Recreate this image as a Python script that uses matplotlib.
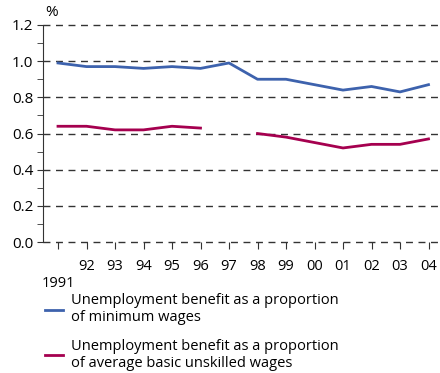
import numpy as np
import matplotlib.pyplot as plt

# data
years = ["1991", "92", "93", "94", "95", "96", "97", "98", "99", "00", "01", "02", "03", "04"]
min_wage_ratio = [0.99, 0.97, 0.97, 0.96, 0.97, 0.96, 0.99, 0.90, 0.90, 0.87, 0.84, 0.86, 0.83, 0.87]
unskilled_ratio = [0.64, 0.64, 0.62, 0.62, 0.64, 0.63, np.nan, 0.60, 0.58, 0.55, 0.52, 0.54, 0.54, 0.57]
labels = ["Unemployment benefit as a proportion\nof minimum wages",
          "Unemployment benefit as a proportion\nof average basic unskilled wages"]

BLUE = "#3d62ad"
RED = "#a5004f"

plt.rcParams["font.family"] = ["Open Sans", "DejaVu Sans"]

fig = plt.figure(figsize=(4.4, 3.73), dpi=100)
ax = fig.add_axes([43 / 440, 131 / 373, 397 / 440, 217 / 373])

x = np.arange(len(years))
l1, = ax.plot(x, min_wage_ratio, color=BLUE, lw=2)
l2, = ax.plot(x, unskilled_ratio, color=RED, lw=2)

ax.set_ylim(0, 1.2)
ax.set_xlim(-15 / 28.5, 382 / 28.5)
ax.set_yticks(np.arange(0, 1.21, 0.2))
ax.set_yticklabels([f"{v:.1f}" for v in np.arange(0, 1.21, 0.2)], fontsize=11)
ax.set_yticks(np.arange(0.1, 1.2, 0.2), minor=True)
ax.set_xticks(x)
ax.set_xticklabels(["\n" + years[0]] + years[1:], fontsize=10.5)

for v in np.arange(0, 1.21, 0.2):
    ax.axhline(v, color="#333333", lw=1, ls=(0, (5, 4)), zorder=0, clip_on=False)

for s in ["top", "right", "bottom"]:
    ax.spines[s].set_visible(False)
ax.spines["left"].set_color("#333333")
ax.tick_params(axis="y", which="both", direction="out", length=4, color="#333333", pad=3)
ax.tick_params(axis="x", direction="out", length=5, color="#333333", pad=7)

fig.text(52 / 440, 1 - 13 / 373, "%", fontsize=11, ha="center", va="center")

fig.legend([l1, l2], labels, loc="upper left", bbox_to_anchor=(38 / 440, 1 - 286 / 373),
           frameon=False, fontsize=10.5, handlelength=1.2, handletextpad=0.55,
           labelspacing=0.9, borderpad=0)

fig.savefig("out.png", dpi=100)
